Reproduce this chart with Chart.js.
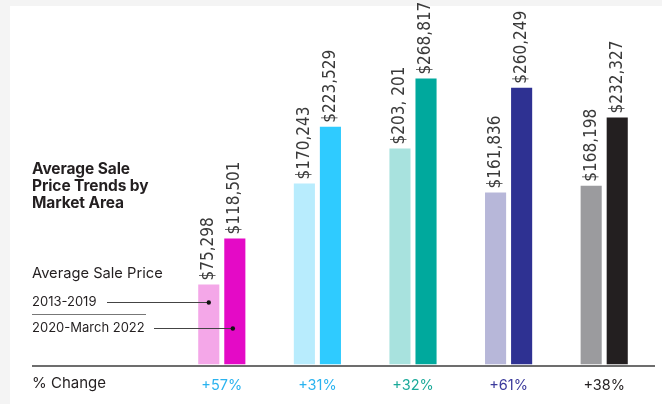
<!DOCTYPE html>
<html>
<head>
<meta charset="utf-8">
<script src="https://cdn.jsdelivr.net/npm/chart.js@4.4.1/dist/chart.umd.min.js"></script>
<style>
  html,body{margin:0;padding:0;background:#f4f4f4;}
  #wrap{position:absolute;left:10px;top:6px;width:652px;height:398px;background:#fff;}
  #c{position:absolute;left:0;top:0;}
  .t{position:absolute;font-family:Inter,'Open Sans',sans-serif;color:#231f20;white-space:nowrap;}
  #title{left:32px;top:160px;font-size:15.5px;font-weight:700;line-height:17px;letter-spacing:-0.1px;}
  #sub{left:32px;top:264px;font-size:14.7px;}
  #l1{left:32px;top:293px;font-size:13px;}
  #l2{left:32px;top:319px;font-size:13px;}
  #pc{left:32px;top:373px;font-size:15px;}
  #sep{position:absolute;left:32px;top:314px;width:114px;height:1px;background:#777;}
</style>
</head>
<body>
<div id="wrap"></div>
<canvas id="c" width="662" height="404"></canvas>
<div class="t" id="title">Average Sale<br>Price Trends by<br>Market Area</div>
<div class="t" id="sub">Average Sale Price</div>
<div class="t" id="l1">2013-2019</div>
<div id="sep"></div>
<div class="t" id="l2">2020-March 2022</div>
<div class="t" id="pc">% Change</div>
<script>
/* Average sale price by market area, 2013-2019 vs 2020-March 2022 */
function $(id){return document.getElementById(id)}

const areas = ['Area 1','Area 2','Area 3','Area 4','Area 5'];
const price2013 = [75298, 170243, 203201, 161836, 168198];
const price2020 = [118501, 223529, 268817, 260249, 232327];
const labels2013 = ['$75,298','$170,243','$203, 201','$161,836','$168,198'];
const labels2020 = ['$118,501','$223,529','$268,817','$260,249','$232,327'];
const pctChange = ['+57%','+31%','+32%','+61%','+38%'];

const lightColors = ['#f4a7e8','#b8ecfd','#a8e2de','#b7b7d9','#9b9b9e'];
const darkColors = ['#e40ac6','#2fcbff','#00a99d','#2e3192','#231f20'];
const pctColors = ['#2ab3ef','#2ab3ef','#1caa9a','#3b3a9c','#231f20'];

const valueFont = "17px 'Liberation Sans Narrow','DejaVu Sans Condensed',sans-serif";

// value labels rotated above each bar, baseline line and the legend leaders
const decor = {
  id:'decor',
  afterDatasetsDraw(chart){
    const ctx = chart.ctx;
    const y0 = Math.round(chart.chartArea.bottom);
    ctx.save();
    // baseline
    ctx.fillStyle = '#6d6d6d';
    ctx.fillRect(32, y0, 623, 2);
    // value labels
    const labs = [labels2013, labels2020];
    ctx.font = valueFont;
    ctx.fillStyle = '#3a3a3a';
    ctx.textAlign = 'left';
    ctx.textBaseline = 'middle';
    chart.data.datasets.forEach((ds, di)=>{
      chart.getDatasetMeta(di).data.forEach((bar, i)=>{
        ctx.save();
        ctx.translate(bar.x, bar.y - 4);
        ctx.rotate(-Math.PI/2);
        ctx.fillText(labs[di][i], 0, 0);
        ctx.restore();
      });
    });
    // leader lines to first pair of bars
    const b0 = chart.getDatasetMeta(0).data[0];
    const b1 = chart.getDatasetMeta(1).data[0];
    ctx.strokeStyle = '#444';
    ctx.fillStyle = '#111';
    ctx.lineWidth = 1;
    [[107, b0.x, 302], [154, b1.x - 2, 328]].forEach(([xs, xe, y])=>{
      ctx.beginPath(); ctx.moveTo(xs, y + 0.5); ctx.lineTo(xe, y + 0.5); ctx.stroke();
      ctx.beginPath(); ctx.arc(xe, y + 0.5, 2.2, 0, Math.PI*2); ctx.fill();
    });
    ctx.restore();
  }
};

new Chart($('c').getContext('2d'), {
  type:'bar',
  data:{
    labels: areas,
    datasets:[
      { label:'2013-2019', data: price2013, backgroundColor: lightColors },
      { label:'2020-March 2022', data: price2020, backgroundColor: darkColors }
    ]
  },
  options:{
    responsive:false,
    animation:false,
    devicePixelRatio:1,
    layout:{ padding:{ left:174, right:10, top:0, bottom:6 } },
    categoryPercentage:0.545,
    barPercentage:0.81,
    plugins:{ legend:{display:false}, tooltip:{enabled:false} },
    scales:{
      x:{
        grid:{display:false},
        border:{display:false},
        ticks:{
          padding:4,
          color:(c)=>pctColors[c.index],
          font:{ family:"Inter,'Open Sans',sans-serif", size:14.5 },
          callback:(v, i)=>pctChange[i]
        }
      },
      y:{ display:false, min:0, max:342700 }
    }
  },
  plugins:[decor]
});
</script>
</body>
</html>
